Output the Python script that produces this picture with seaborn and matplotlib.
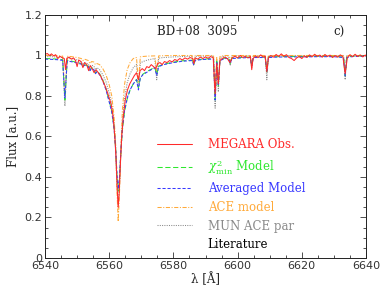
import matplotlib
matplotlib.use('Agg')
import matplotlib.pyplot as plt
from matplotlib.lines import Line2D
from matplotlib.ticker import MultipleLocator, FuncFormatter
import seaborn as sns

# Wavelength grid (Angstrom) shared by the model spectra
wave_mod = [
    6540.0, 6542.0, 6544.0, 6545.5, 6546.2, 6546.9, 6548.0, 6550.0, 6551.3, 6551.8,
    6552.3, 6553.5, 6554.0, 6554.5, 6555.2, 6555.7, 6556.2, 6557.0, 6558.0, 6559.0,
    6560.0, 6560.8, 6561.5, 6562.0, 6562.4, 6562.8, 6563.2, 6563.6, 6564.1, 6564.8,
    6565.6, 6566.5, 6567.5, 6568.5, 6569.1, 6569.7, 6570.5, 6572.0, 6574.2, 6574.8,
    6575.4, 6577.0, 6580.0, 6583.0, 6585.8, 6586.3, 6586.8, 6589.0, 6591.5, 6592.5,
    6593.0, 6593.5, 6594.0, 6594.5, 6596.0, 6597.2, 6597.7, 6598.2, 6601.0, 6603.9,
    6604.4, 6604.9, 6607.0, 6608.6, 6609.1, 6609.6, 6612.0, 6616.0, 6620.0, 6625.0,
    6630.0, 6633.0, 6633.5, 6634.0, 6636.0, 6640.0]

# chi2_min model
flux_chi2 = [
    0.985, 0.984, 0.982, 0.979, 0.780, 0.976, 0.973, 0.966, 0.960, 0.948,
    0.955, 0.947, 0.928, 0.940, 0.933, 0.912, 0.923, 0.910, 0.880, 0.835,
    0.775, 0.725, 0.645, 0.540, 0.410, 0.330, 0.390, 0.510, 0.630, 0.725,
    0.785, 0.830, 0.860, 0.882, 0.840, 0.890, 0.908, 0.923, 0.942, 0.905,
    0.947, 0.957, 0.967, 0.974, 0.977, 0.955, 0.978, 0.982, 0.984, 0.982,
    0.780, 0.972, 0.850, 0.977, 0.987, 0.987, 0.960, 0.987, 0.990, 0.992,
    0.950, 0.992, 0.992, 0.992, 0.920, 0.992, 0.994, 0.995, 0.995, 0.996,
    0.996, 0.992, 0.900, 0.992, 0.997, 0.998]

# averaged model
flux_avg = [
    0.982, 0.981, 0.979, 0.976, 0.790, 0.973, 0.970, 0.963, 0.957, 0.945,
    0.952, 0.944, 0.925, 0.937, 0.930, 0.910, 0.920, 0.905, 0.875, 0.830,
    0.770, 0.720, 0.640, 0.540, 0.420, 0.340, 0.400, 0.520, 0.640, 0.730,
    0.790, 0.830, 0.860, 0.880, 0.830, 0.890, 0.905, 0.920, 0.940, 0.900,
    0.945, 0.955, 0.965, 0.972, 0.975, 0.955, 0.976, 0.980, 0.982, 0.980,
    0.780, 0.970, 0.850, 0.975, 0.985, 0.985, 0.960, 0.985, 0.988, 0.990,
    0.950, 0.990, 0.990, 0.990, 0.920, 0.990, 0.992, 0.993, 0.993, 0.994,
    0.994, 0.990, 0.900, 0.990, 0.995, 0.996]

# ACE model
flux_ace = [
    1.000, 1.000, 0.999, 0.997, 0.800, 0.996, 0.995, 0.990, 0.985, 0.975,
    0.982, 0.975, 0.960, 0.970, 0.968, 0.955, 0.960, 0.955, 0.935, 0.905,
    0.855, 0.800, 0.700, 0.560, 0.340, 0.180, 0.320, 0.520, 0.730, 0.860,
    0.930, 0.965, 0.985, 0.990, 0.870, 0.993, 0.995, 0.997, 0.998, 0.920,
    0.998, 0.999, 1.000, 1.000, 1.000, 0.970, 1.000, 1.000, 1.000, 1.000,
    0.800, 0.990, 0.870, 0.995, 1.000, 1.000, 0.970, 1.000, 1.000, 1.000,
    0.960, 1.000, 1.000, 1.000, 0.920, 1.000, 1.000, 1.000, 1.000, 1.000,
    1.000, 1.000, 0.910, 1.000, 1.000, 1.000]

# MUN ACE parameters
flux_mun = [
    0.995, 0.994, 0.992, 0.990, 0.750, 0.988, 0.985, 0.978, 0.970, 0.955,
    0.965, 0.958, 0.940, 0.952, 0.948, 0.930, 0.940, 0.930, 0.905, 0.870,
    0.815, 0.760, 0.670, 0.550, 0.360, 0.260, 0.350, 0.520, 0.680, 0.790,
    0.865, 0.910, 0.940, 0.955, 0.840, 0.963, 0.970, 0.978, 0.985, 0.880,
    0.987, 0.990, 0.993, 0.995, 0.996, 0.950, 0.996, 0.997, 0.997, 0.996,
    0.740, 0.980, 0.820, 0.990, 0.998, 0.998, 0.950, 0.998, 0.998, 0.998,
    0.940, 0.998, 0.998, 0.998, 0.880, 0.998, 0.999, 0.999, 0.999, 0.999,
    0.999, 0.998, 0.880, 0.998, 0.999, 1.000]

# MEGARA observed spectrum
wave_obs = [
    6540.0, 6540.7, 6541.4, 6542.0, 6542.7, 6543.3, 6544.0, 6544.6, 6545.3, 6546.0,
    6546.4, 6546.8, 6547.5, 6548.2, 6548.9, 6549.5, 6550.0, 6550.5, 6551.2, 6551.8,
    6552.3, 6553.0, 6553.6, 6554.1, 6554.7, 6555.3, 6555.9, 6556.6, 6557.3, 6558.0,
    6558.7, 6559.4, 6560.0, 6560.6, 6561.2, 6561.7, 6562.1, 6562.5, 6562.8, 6563.1,
    6563.5, 6563.9, 6564.4, 6565.0, 6565.7, 6566.4, 6567.1, 6567.8, 6568.5, 6569.1,
    6569.6, 6570.3, 6571.0, 6571.7, 6572.4, 6573.1, 6573.8, 6574.5, 6575.1, 6575.8,
    6576.5, 6577.2, 6578.0, 6578.8, 6579.6, 6580.4, 6581.2, 6582.0, 6582.8, 6583.6,
    6584.4, 6585.2, 6586.0, 6586.4, 6586.8, 6587.6, 6588.4, 6589.2, 6590.0, 6590.8,
    6591.6, 6592.4, 6593.0, 6593.5, 6594.0, 6594.5, 6595.2, 6596.0, 6596.8, 6597.6,
    6598.4, 6599.2, 6600.0, 6600.8, 6601.6, 6602.4, 6603.2, 6604.0, 6604.4, 6604.8,
    6605.6, 6606.4, 6607.2, 6608.0, 6608.6, 6609.1, 6609.6, 6610.4, 6611.2, 6612.0,
    6612.8, 6613.6, 6614.4, 6615.2, 6616.0, 6616.8, 6617.6, 6618.4, 6619.2, 6620.0,
    6620.8, 6621.6, 6622.4, 6623.2, 6624.0, 6624.8, 6625.6, 6626.4, 6627.2, 6628.0,
    6628.8, 6629.6, 6630.4, 6631.2, 6632.0, 6632.8, 6633.5, 6634.2, 6635.0, 6635.8,
    6636.6, 6637.4, 6638.2, 6639.0, 6639.8, 6640.0]
flux_obs = [
    1.005, 1.010, 1.000, 1.008, 0.998, 1.004, 0.985, 0.996, 0.990, 0.985,
    0.930, 0.985, 0.992, 0.982, 0.988, 0.975, 0.945, 0.978, 0.970, 0.940,
    0.965, 0.955, 0.925, 0.950, 0.935, 0.915, 0.930, 0.915, 0.900, 0.875,
    0.850, 0.820, 0.790, 0.760, 0.700, 0.610, 0.500, 0.340, 0.250, 0.320,
    0.470, 0.600, 0.700, 0.780, 0.830, 0.860, 0.880, 0.900, 0.915, 0.880,
    0.925, 0.935, 0.925, 0.945, 0.940, 0.955, 0.945, 0.935, 0.960, 0.965,
    0.955, 0.970, 0.965, 0.975, 0.968, 0.980, 0.975, 0.985, 0.978, 0.988,
    0.982, 0.990, 0.985, 0.960, 0.988, 0.982, 0.992, 0.985, 0.993, 0.986,
    0.995, 0.988, 0.810, 0.960, 0.860, 0.975, 0.985, 0.992, 0.985, 0.965,
    0.990, 0.996, 0.988, 1.000, 0.990, 0.996, 0.988, 0.995, 0.930, 0.985,
    0.998, 0.990, 1.003, 0.992, 0.998, 0.920, 0.990, 1.000, 0.992, 1.005,
    0.995, 1.008, 0.996, 1.004, 0.990, 0.985, 0.975, 0.988, 0.995, 0.985,
    0.998, 0.990, 1.003, 0.994, 1.006, 0.996, 1.002, 0.992, 1.005, 0.995,
    1.002, 0.990, 1.000, 0.992, 1.003, 0.994, 0.910, 0.990, 1.004, 0.994,
    1.006, 0.995, 1.003, 0.993, 1.002, 0.998]

labels = ['MEGARA Obs.', r'$\chi^2_{\rm min}$ Model', 'Averaged Model',
          'ACE model', 'MUN ACE par', 'Literature']
colors = ['#ff2a2a', '#2ee82e', '#3838ff', '#ffaa3a', '#8a8a8a', 'black']
styles = ['-', (0, (5, 2.5)), (0, (3, 1.8)), (0, (4, 1.5, 1, 1.5)), (0, (1, 1.2))]
lw = 0.75

sns.set_style('ticks')
plt.rcParams['font.family'] = ['DejaVu Serif']
plt.rcParams['mathtext.fontset'] = 'dejavuserif'

fig = plt.figure(figsize=(3.89, 2.91), dpi=100)
ax = fig.add_axes([0.1157, 0.1134, 0.8252, 0.8351])

# models first, observation on top
sns.lineplot(x=wave_mod, y=flux_mun, ax=ax, color=colors[4], lw=lw, linestyle=styles[4])
sns.lineplot(x=wave_mod, y=flux_ace, ax=ax, color=colors[3], lw=lw, linestyle=styles[3])
sns.lineplot(x=wave_mod, y=flux_chi2, ax=ax, color=colors[1], lw=lw, linestyle=styles[1])
sns.lineplot(x=wave_mod, y=flux_avg, ax=ax, color=colors[2], lw=lw, linestyle=styles[2])
sns.lineplot(x=wave_obs, y=flux_obs, ax=ax, color=colors[0], lw=lw)

ax.set_xlim(6540, 6640)
ax.set_ylim(0, 1.2)
ax.xaxis.set_major_locator(MultipleLocator(20))
ax.xaxis.set_minor_locator(MultipleLocator(5))
ax.yaxis.set_major_locator(MultipleLocator(0.2))
ax.yaxis.set_minor_locator(MultipleLocator(0.05))
ax.yaxis.set_major_formatter(FuncFormatter(lambda v, p: f'{v:g}'))
ax.tick_params(which='both', direction='in', top=True, right=True,
               width=0.6, colors='#333333', labelsize=8)
ax.tick_params(which='major', length=4, pad=2)
ax.tick_params(which='minor', length=2)
for lab in ax.get_xticklabels() + ax.get_yticklabels():
    lab.set_family('DejaVu Sans')
for s in ax.spines.values():
    s.set_linewidth(0.7)
    s.set_color('#222222')

ax.set_xlabel('λ [Å]', fontsize=8.5, labelpad=1)
ax.set_ylabel('Flux [a.u.]', fontsize=8.5, labelpad=4)

ax.text(0.475, 0.93, 'BD+08  3095', transform=ax.transAxes, ha='center',
        va='center', fontsize=8.5, color='#222222')
ax.text(0.916, 0.93, 'c)', transform=ax.transAxes, ha='center',
        va='center', fontsize=8.5, color='#222222')

handles = [Line2D([], [], color=c, lw=lw, linestyle=st)
           for c, st in zip(colors[:5], styles)]
handles.append(Line2D([], [], color='none'))
ax.legend(handles, labels, loc='upper left', bbox_to_anchor=(0.349, 0.492),
          frameon=False, handlelength=3.0, handletextpad=1.3, labelspacing=0.48,
          borderpad=0, borderaxespad=0, fontsize=8.5, labelcolor=colors)

fig.savefig('out.png', dpi=100)
